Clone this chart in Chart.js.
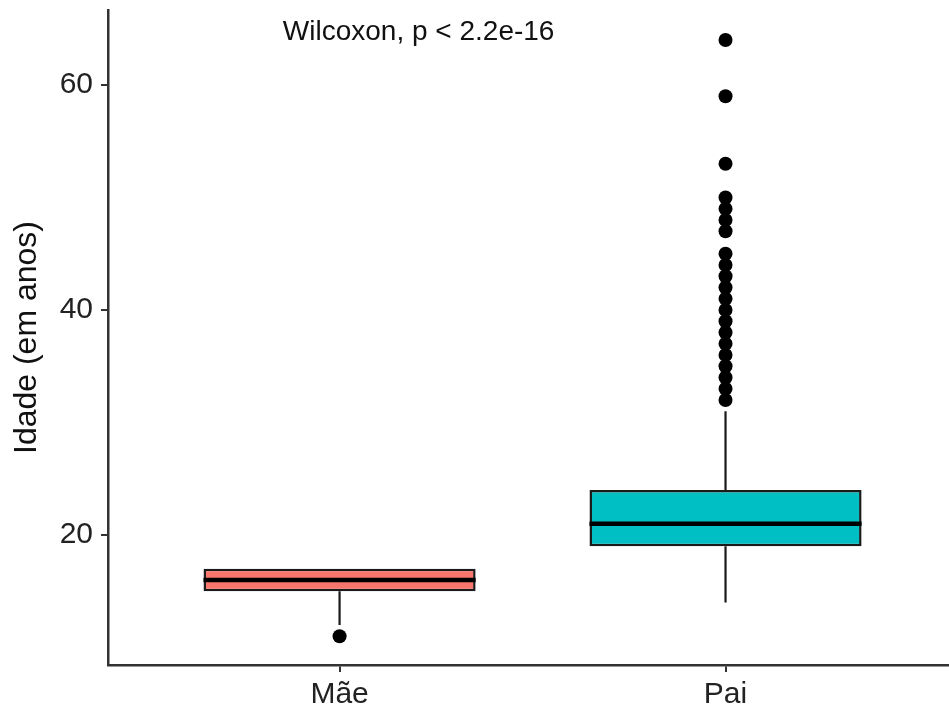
<!DOCTYPE html>
<html>
<head>
<meta charset="utf-8">
<script src="https://cdn.jsdelivr.net/npm/chart.js@4.4.1/dist/chart.umd.min.js"></script>
<style>
  html, body { margin: 0; padding: 0; background: #ffffff; }
  #wrap { width: 949px; height: 708px; }
</style>
</head>
<body>
<div id="wrap"><canvas id="c" width="949" height="708"></canvas></div>
<script>
// ---- data ----
const categories = ['Mãe', 'Pai'];
const q1 = [15, 19];
const median = [16, 21];
const q3 = [17, 24];
const whiskerLow = [12, 14];
const whiskerHigh = [17, 31];
const outliersMae = [11];
const outliersPai = [32, 33, 34, 35, 36, 37, 38, 39, 40, 41, 42, 43, 44, 45, 47, 48, 49, 50, 53, 59, 64];
const yTicks = [20, 40, 60];
const boxColors = ['#F8766D', '#00BFC4'];
const annotationText = 'Wilcoxon, p < 2.2e-16';

// ---- style constants ----
const BOX_WIDTH = 0.705; // fraction of the category spacing
const FONT = '"Liberation Sans", Arial, Helvetica, sans-serif';

// ---- build datasets ----
const boxes = categories.map((c, i) => ({ x: i + 1, y: [q1[i], q3[i]] }));
const medianPts = [];
categories.forEach((c, i) => {
  medianPts.push({ x: i + 1 - BOX_WIDTH / 2, y: median[i] }, { x: i + 1 + BOX_WIDTH / 2, y: median[i] }, { x: i + 1, y: null });
});
const whiskerPts = [];
categories.forEach((c, i) => {
  if (whiskerLow[i] < q1[i]) {
    whiskerPts.push({ x: i + 1, y: whiskerLow[i] }, { x: i + 1, y: q1[i] }, { x: i + 1, y: null });
  }
  if (whiskerHigh[i] > q3[i]) {
    whiskerPts.push({ x: i + 1, y: q3[i] }, { x: i + 1, y: whiskerHigh[i] }, { x: i + 1, y: null });
  }
});
const outlierPts = [
  ...outliersMae.map(v => ({ x: 1, y: v })),
  ...outliersPai.map(v => ({ x: 2, y: v }))
];

const annotationPlugin = {
  id: 'annot',
  afterDatasetsDraw(chart) {
    const { ctx, scales } = chart;
    const px = scales.x.getPixelForValue(0.853);
    const py = scales.y.getPixelForValue(64.0);
    ctx.save();
    ctx.font = '28px ' + FONT;
    ctx.fillStyle = '#111';
    ctx.textAlign = 'left';
    ctx.textBaseline = 'alphabetic';
    ctx.fillText(annotationText, px, py);
    ctx.restore();
  }
};

new Chart(document.getElementById('c'), {
  type: 'bar',
  data: {
    datasets: [
      {
        type: 'bar',
        label: 'box',
        data: boxes,
        backgroundColor: boxColors,
        borderColor: '#1a1a1a',
        borderWidth: 2.5,
        borderSkipped: false,
        grouped: false,
        barPercentage: BOX_WIDTH,
        categoryPercentage: 1,
        order: 2
      },
      {
        type: 'line',
        label: 'median',
        data: medianPts,
        borderColor: '#000',
        borderWidth: 4.5,
        borderCapStyle: 'butt',
        pointRadius: 0,
        spanGaps: false,
        fill: false,
        order: 1
      },
      {
        type: 'line',
        label: 'whiskers',
        data: whiskerPts,
        borderColor: '#1a1a1a',
        borderWidth: 2.2,
        borderCapStyle: 'butt',
        pointRadius: 0,
        spanGaps: false,
        fill: false,
        order: 3
      },
      {
        type: 'scatter',
        label: 'outliers',
        data: outlierPts,
        backgroundColor: '#000',
        borderWidth: 0,
        pointRadius: 7,
        order: 0
      }
    ]
  },
  options: {
    responsive: false,
    animation: false,
    events: [],
    layout: { autoPadding: false, padding: { left: 6, top: 10, right: 0, bottom: 0 } },
    plugins: { legend: { display: false }, tooltip: { enabled: false } },
    scales: {
      x: {
        type: 'linear',
        position: 'bottom',
        offset: false,
        min: 0.4,
        max: 2.579,
        grid: { display: true, offset: false, drawOnChartArea: false, drawTicks: true, tickLength: 7, color: '#333', lineWidth: 2 },
        border: { display: true, color: '#333', width: 2.5 },
        ticks: {
          font: { family: FONT, size: 30 },
          color: '#222',
          padding: 5,
          maxRotation: 0,
          autoSkip: false,
          callback: (v) => categories[v - 1]
        },
        afterBuildTicks: (scale) => { scale.ticks = categories.map((c, i) => ({ value: i + 1 })); },
        afterFit: (scale) => { scale.height = 43; scale.paddingLeft = 0; scale.paddingRight = 0; }
      },
      y: {
        type: 'linear',
        min: 8.44,
        max: 66.67,
        grid: { display: true, drawOnChartArea: false, drawTicks: true, tickLength: 7, color: '#333', lineWidth: 2 },
        border: { display: true, color: '#333', width: 2.5 },
        ticks: {
          font: { family: FONT, size: 30 },
          color: '#222',
          padding: 8
        },
        title: {
          display: true,
          text: 'Idade (em anos)',
          font: { family: FONT, size: 32 },
          color: '#111',
          padding: { top: 2, bottom: 4 }
        },
        afterBuildTicks: (scale) => { scale.ticks = yTicks.map(v => ({ value: v })); },
        afterFit: (scale) => { scale.width = 102; scale.paddingTop = 0; scale.paddingBottom = 0; }
      }
    }
  },
  plugins: [annotationPlugin]
});
</script>
</body>
</html>
